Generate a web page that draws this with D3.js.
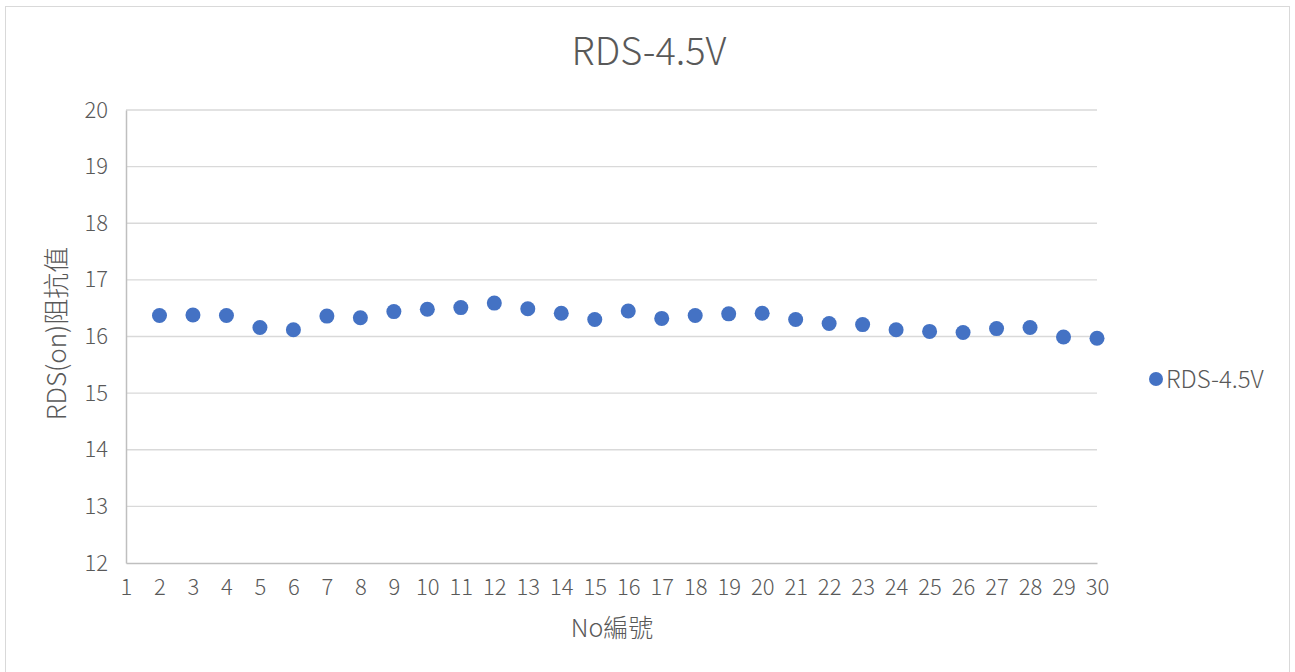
<!DOCTYPE html>
<html>
<head>
<meta charset="utf-8">
<script src="https://cdn.jsdelivr.net/npm/d3@7"></script>
<style>
  body { margin: 0; background: #fff; }
  text { font-family: "Noto Sans CJK TC", "Noto Sans", sans-serif; fill: #595959; font-weight: 300; }
</style>
</head>
<body>
<svg id="chart" width="1295" height="672"></svg>
<script>
const seriesName = "RDS-4.5V";
const xValues = [2, 3, 4, 5, 6, 7, 8, 9, 10, 11, 12, 13, 14, 15, 16, 17, 18, 19, 20, 21, 22, 23, 24, 25, 26, 27, 28, 29, 30];
const yValues = [16.37, 16.38, 16.37, 16.16, 16.12, 16.36, 16.33, 16.44, 16.48, 16.51, 16.59, 16.49, 16.41, 16.30,
                 16.45, 16.32, 16.37, 16.40, 16.41, 16.30, 16.23, 16.21, 16.12, 16.09, 16.07, 16.14, 16.16, 15.99, 15.97];
const xTicks = d3.range(1, 31);
const yTicks = [12, 13, 14, 15, 16, 17, 18, 19, 20];

const svg = d3.select("#chart");
const plotL = 126, plotR = 1097, plotT = 110, plotB = 563;

const x = d3.scaleLinear().domain([1, 30]).range([plotL, plotR]);
const y = d3.scaleLinear().domain([12, 20]).range([plotB, plotT]);

// outer frame
svg.append("rect")
  .attr("x", 5.5).attr("y", 6.5).attr("width", 1284).attr("height", 670)
  .attr("fill", "#fff").attr("stroke", "#d9d9d9");

// gridlines
svg.append("g").selectAll("line")
  .data(yTicks.filter(d => d > 12))
  .join("line")
  .attr("x1", plotL).attr("x2", plotR)
  .attr("y1", d => y(d)).attr("y2", d => y(d))
  .attr("stroke", "#d9d9d9").attr("stroke-width", 1.3);

// y axis
const yAxis = svg.append("g")
  .attr("transform", `translate(${plotL},0)`)
  .call(d3.axisLeft(y).tickValues(yTicks).tickSize(0).tickPadding(18));
yAxis.select(".domain").attr("stroke", "#bfbfbf").attr("stroke-width", 1.5);
yAxis.selectAll("text").attr("font-size", 22).attr("fill", "#595959")
  .style("font-family", '"Noto Sans CJK TC", sans-serif').style("font-weight", 300);

// x axis
const xAxis = svg.append("g")
  .attr("transform", `translate(0,${plotB})`)
  .call(d3.axisBottom(x).tickValues(xTicks).tickSize(0).tickPadding(16));
xAxis.select(".domain").attr("stroke", "#bfbfbf").attr("stroke-width", 1.5);
xAxis.selectAll("text").attr("font-size", 22).attr("fill", "#595959")
  .style("font-family", '"Noto Sans CJK TC", sans-serif').style("font-weight", 300);

// points
svg.append("g").selectAll("circle")
  .data(xValues.map((d, i) => ({ x: d, y: yValues[i] })))
  .join("circle")
  .attr("cx", d => x(d.x)).attr("cy", d => y(d.y))
  .attr("r", 7.5).attr("fill", "#4472c4");

// title
svg.append("text")
  .attr("x", 649).attr("y", 65).attr("text-anchor", "middle")
  .attr("font-size", 38).text(seriesName);

// axis titles
svg.append("text")
  .attr("x", 612).attr("y", 637).attr("text-anchor", "middle")
  .attr("font-size", 25).text("No編號");
svg.append("text")
  .attr("transform", `translate(66,${(plotT + plotB) / 2 - 3}) rotate(-90)`)
  .attr("text-anchor", "middle")
  .attr("font-size", 26).text("RDS(on)阻抗值");

// legend
const legend = svg.append("g");
legend.append("circle").attr("cx", 1156).attr("cy", 379).attr("r", 7).attr("fill", "#4472c4");
legend.append("text").attr("x", 1166).attr("y", 388).attr("font-size", 24).text(seriesName);
</script>
</body>
</html>
